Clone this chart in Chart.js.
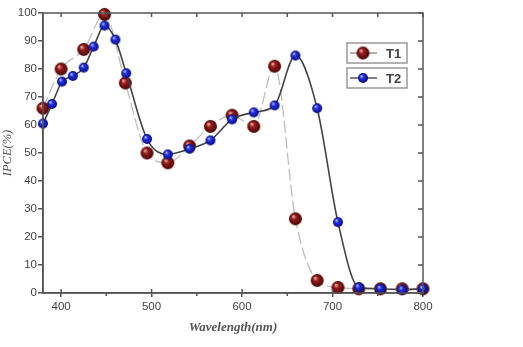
<!DOCTYPE html>
<html>
<head>
<meta charset="utf-8">
<script src="https://cdn.jsdelivr.net/npm/chart.js@4/dist/chart.umd.min.js"></script>
<style>
  html, body { margin: 0; padding: 0; background: #fff; }
  #wrap { width: 523px; height: 347px; }
</style>
</head>
<body>
<div id="wrap"><canvas id="ipce"></canvas></div>
<script>
// wavelengths (nm) and IPCE (%)
var t1Wave = [380, 400, 425, 448, 471, 495, 518, 542, 565, 589, 613, 636, 659, 683, 706, 729, 753, 777, 800];
var t1Ipce = [66, 80, 87, 99.5, 75, 50, 46.5, 52.5, 59.5, 63.5, 59.5, 81, 26.5, 4.5, 2, 1.5, 1.5, 1.5, 1.5];
var t2Wave = [380, 390, 401, 413, 425, 436, 448, 460, 472, 495, 518, 542, 565, 589, 613, 636, 659, 683, 706, 729, 753, 777, 800];
var t2Ipce = [60.5, 67.5, 75.5, 77.5, 80.5, 88, 95.5, 90.5, 78.5, 55, 49.5, 51.5, 54.5, 62, 64.5, 67, 84.8, 66, 25.3, 2, 1.5, 1.2, 1.5];
var xTicks = [400, 500, 600, 700, 800];
var xMinor = [450, 550, 650, 750];
var yTicks = [0, 10, 20, 30, 40, 50, 60, 70, 80, 90, 100];

var axisColor = '#555';
var labelColor = '#444';

function toPoints(xs, ys) {
    return xs.map(function(x, i){ return {x: x, y: ys[i]}; });
}

// little shaded ball, like the original markers
function sphere(r, light, mid, dark) {
    var c = document.createElement('canvas');
    c.width = c.height = 2 * r + 2;
    var ctx = c.getContext('2d');
    var cx = r + 1, cy = r + 1;
    var g = ctx.createRadialGradient(cx - r * 0.35, cy - r * 0.4, r * 0.05, cx, cy, r);
    g.addColorStop(0, light);
    g.addColorStop(0.35, mid);
    g.addColorStop(1, dark);
    ctx.fillStyle = g;
    ctx.beginPath();
    ctx.arc(cx, cy, r, 0, Math.PI * 2);
    ctx.fill();
    return c;
}

var redBall = sphere(6.5, '#e9b4a8', '#9a1c1c', '#450606');
var blueBall = sphere(5, '#c2ccff', '#2233e6', '#0a0a7a');

// frame, inner ticks on top/right, minor ticks, and the boxed legend
var framePlugin = {
    id: 'frame',
    afterDraw: function(chart) {
        var ctx = chart.ctx, a = chart.chartArea;
        var xs = chart.scales.x, ys = chart.scales.y;
        ctx.save();
        ctx.strokeStyle = axisColor;
        ctx.lineWidth = 1.5;
        ctx.strokeRect(a.left, a.top, a.right - a.left, a.bottom - a.top);
        ctx.beginPath();
        xTicks.concat(xMinor).forEach(function(v){
            var px = xs.getPixelForValue(v);
            ctx.moveTo(px, a.top); ctx.lineTo(px, a.top + 4);
        });
        xMinor.forEach(function(v){
            var px = xs.getPixelForValue(v);
            ctx.moveTo(px, a.bottom); ctx.lineTo(px, a.bottom + 3);
        });
        xTicks.forEach(function(v){
            var px = xs.getPixelForValue(v);
            ctx.moveTo(px, a.bottom); ctx.lineTo(px, a.bottom - 4);
        });
        yTicks.forEach(function(v){
            var py = ys.getPixelForValue(v);
            ctx.moveTo(a.right, py); ctx.lineTo(a.right - 5, py);
        });
        ctx.stroke();

        // legend
        var boxL = a.right - 76, boxW = 60, boxH = 20;
        chart.data.datasets.forEach(function(ds, i){
            var top = a.top + 30 + i * 25;
            var mid = top + boxH / 2;
            ctx.strokeStyle = '#999';
            ctx.lineWidth = 1.5;
            ctx.strokeRect(boxL, top, boxW, boxH);
            ctx.strokeStyle = ds.legendLine;
            ctx.lineWidth = 1.5;
            ctx.beginPath();
            ctx.moveTo(boxL + 3, mid); ctx.lineTo(boxL + 30, mid);
            ctx.stroke();
            var img = ds.pointStyle;
            ctx.drawImage(img, boxL + 16 - img.width / 2, mid - img.height / 2);
            ctx.fillStyle = labelColor;
            ctx.font = 'bold 13px "Liberation Sans", Arial, sans-serif';
            ctx.textBaseline = 'middle';
            ctx.fillText(ds.label, boxL + 39, mid + 1);
        });
        ctx.restore();
    }
};

new Chart(document.getElementById('ipce'), {
    type: 'line',
    data: {
        datasets: [{
            label: 'T1',
            data: toPoints(t1Wave, t1Ipce),
            borderColor: '#bdbdbd',
            borderWidth: 1.3,
            borderDash: [12, 4],
            legendLine: '#999',
            cubicInterpolationMode: 'monotone',
            pointStyle: redBall,
            pointRadius: 6.5,
            clip: false,
            order: 1
        }, {
            label: 'T2',
            data: toPoints(t2Wave, t2Ipce),
            borderColor: '#444',
            borderWidth: 1.6,
            legendLine: '#555',
            cubicInterpolationMode: 'monotone',
            pointStyle: blueBall,
            pointRadius: 5,
            clip: false,
            order: 0
        }]
    },
    options: {
        responsive: true,
        maintainAspectRatio: false,
        animation: false,
        events: [],
        layout: { padding: { top: 13, right: 100, left: 0, bottom: 0 } },
        plugins: {
            legend: { display: false },
            tooltip: { enabled: false }
        },
        scales: {
            x: {
                type: 'linear',
                min: 380,
                max: 800,
                afterBuildTicks: function(scale){
                    scale.ticks = xTicks.map(function(v){ return {value: v}; });
                },
                afterFit: function(scale){ scale.height = 54; },
                grid: { display: true, drawOnChartArea: false, drawTicks: true, tickLength: 4, color: axisColor, lineWidth: 1.5 },
                border: { display: true, color: axisColor, width: 1.5 },
                ticks: {
                    color: labelColor,
                    padding: 3,
                    maxRotation: 0,
                    font: { family: '"Liberation Sans", Arial, sans-serif', size: 11.5 }
                },
                title: {
                    display: true,
                    text: 'Wavelength(nm)',
                    color: '#555',
                    padding: { top: 2, bottom: 12 },
                    font: { family: '"Liberation Serif", "Times New Roman", serif', size: 13, style: 'italic', weight: 'bold' }
                }
            },
            y: {
                min: 0,
                max: 100,
                afterBuildTicks: function(scale){
                    scale.ticks = yTicks.map(function(v){ return {value: v}; });
                },
                afterFit: function(scale){ scale.width = 43; },
                grid: { display: true, drawOnChartArea: false, drawTicks: true, tickLength: 5, color: axisColor, lineWidth: 1.5 },
                border: { display: true, color: axisColor, width: 1.5 },
                ticks: {
                    color: labelColor,
                    padding: 1,
                    font: { family: '"Liberation Sans", Arial, sans-serif', size: 11.5 }
                },
                title: {
                    display: true,
                    text: 'IPCE(%)',
                    color: '#555',
                    padding: { top: 0, bottom: 0 },
                    font: { family: '"Liberation Serif", "Times New Roman", serif', size: 12.5, style: 'italic' }
                }
            }
        }
    },
    plugins: [framePlugin]
});
</script>
</body>
</html>
